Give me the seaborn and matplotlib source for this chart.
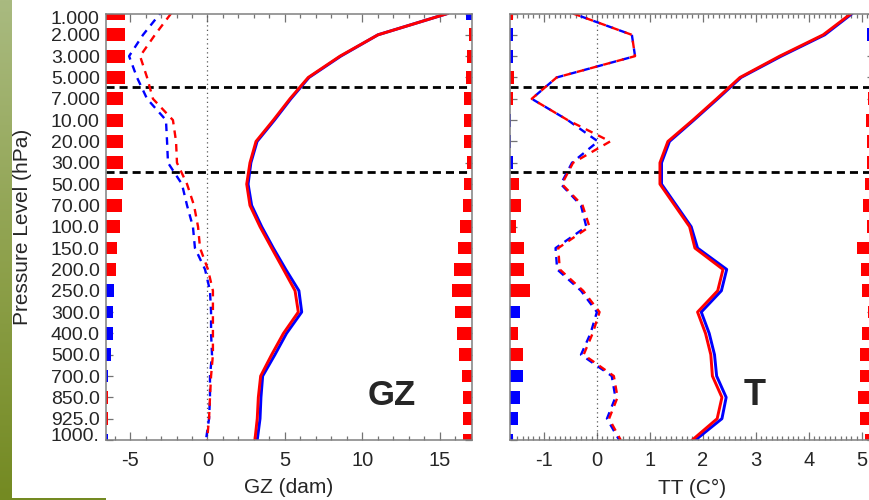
import numpy as np
import pandas as pd
import matplotlib
matplotlib.use("Agg")
import matplotlib.pyplot as plt
import seaborn as sns
from matplotlib.ticker import MultipleLocator
from matplotlib.patches import Rectangle
from matplotlib.colors import LinearSegmentedColormap
from matplotlib.transforms import ScaledTranslation

# ---------------- data ----------------
level_labels = ["1.000", "2.000", "3.000", "5.000", "7.000", "10.00", "20.00", "30.00",
                "50.00", "70.00", "100.0", "150.0", "200.0", "250.0", "300.0", "400.0",
                "500.0", "700.0", "850.0", "925.0", "1000."]

# GZ (dam) profiles
gz_std_red = [15.5, 11.0, 8.55, 6.5, 5.32, 4.25, 3.13, 2.74, 2.53, 2.74, 3.39, 4.14, 4.9,
              5.65, 5.86, 4.9, 4.14, 3.43, 3.28, 3.21, 3.06]
gz_std_blue = [15.5, 11.0, 8.6, 6.55, 5.38, 4.32, 3.2, 2.8, 2.62, 2.85, 3.5, 4.25, 5.05,
               5.9, 6.08, 5.1, 4.35, 3.56, 3.45, 3.39, 3.21]
gz_bias_red = [-2.35, -3.39, -4.35, -3.9, -3.52, -2.23, -2.03, -1.97, -1.32, -0.87, -0.61,
               -0.48, 0.03, 0.35, 0.35, 0.35, 0.35, 0.23, 0.16, 0.1, -0.03]
gz_bias_blue = [-3.06, -4.16, -5.06, -4.55, -3.9, -2.68, -2.61, -2.55, -1.65, -1.32, -0.94,
                -0.81, -0.16, 0.16, 0.23, 0.23, 0.29, 0.16, 0.16, 0.1, -0.1]
gz_bars_left = [1.23, 1.23, 1.23, 1.23, 1.12, 1.12, 1.12, 1.12, 1.12, 1.01, 0.90, 0.73, 0.65,
                0.54, 0.47, 0.43, 0.30, 0.11, 0.11, 0.11, 0.11]
gz_bars_left_col = ["r"] * 13 + ["b"] * 5 + ["r", "r", "b"]
gz_bars_right = [0.37, 0.15, 0.32, 0.37, 0.48, 0.48, 0.48, 0.32, 0.48, 0.58, 0.75, 0.90, 1.14,
                 1.25, 1.08, 0.97, 0.84, 0.61, 0.54, 0.54, 0.58]
gz_bars_right_col = ["b"] + ["r"] * 20

# TT (C) profiles
tt_std_red = [4.8, 4.27, 3.45, 2.7, 2.26, 1.81, 1.34, 1.19, 1.19, 1.47, 1.75, 1.85, 2.38,
              2.28, 1.90, 2.05, 2.15, 2.18, 2.36, 2.27, 1.80]
tt_std_blue = [4.82, 4.3, 3.48, 2.72, 2.28, 1.83, 1.37, 1.22, 1.22, 1.5, 1.78, 1.9, 2.45,
               2.35, 1.97, 2.12, 2.22, 2.26, 2.44, 2.36, 1.86]
tt_bias_red = [-0.45, 0.66, 0.72, -0.76, -1.23, -0.55, 0.25, -0.45, -0.66, -0.27, -0.14,
               -0.73, -0.70, -0.26, 0.05, -0.08, -0.25, 0.32, 0.39, 0.23, 0.45]
tt_bias_blue = [-0.45, 0.66, 0.72, -0.76, -1.23, -0.55, 0.02, -0.47, -0.68, -0.3, -0.2,
                -0.78, -0.75, -0.3, 0.0, -0.12, -0.3, 0.28, 0.35, 0.19, 0.42]
tt_bars_left = [0.05, 0.06, 0.06, 0.08, 0.06, 0.02, 0.02, 0.05, 0.17, 0.20, 0.11, 0.26, 0.26,
                0.38, 0.19, 0.16, 0.24, 0.24, 0.19, 0.15, 0.06]
tt_bars_left_col = ["r", "b", "b", "r", "r", "b", "b", "b", "r", "r", "r", "r", "r", "r",
                    "b", "r", "r", "b", "b", "b", "b"]
tt_bars_right = [0.02, 0.13, 0.06, 0.06, 0.11, 0.15, 0.13, 0.13, 0.17, 0.21, 0.13, 0.32, 0.25,
                 0.23, 0.11, 0.23, 0.26, 0.26, 0.30, 0.26, 0.17]
tt_bars_right_col = ["b", "b"] + ["r"] * 19

sep_levels = [3.43, 7.44]

# ---------------- style ----------------
sns.set_style("white")
plt.rcParams['font.family'] = ['Liberation Sans', 'DejaVu Sans']
plt.rcParams['axes.unicode_minus'] = False

RED = "#ff0000"
BLUE = "#0000ff"
colmap = {"r": RED, "b": BLUE}

W, H = 870, 500
fig = plt.figure(figsize=(W / 100, H / 100), dpi=100)
fig.patch.set_facecolor("white")


def rect(x0, y0, x1, y1):
    return [x0 / W, 1 - y1 / H, (x1 - x0) / W, (y1 - y0) / H]


# left decorative strip
ax_strip = fig.add_axes(rect(0, 0, 12, 500))
cmap = LinearSegmentedColormap.from_list("g", ["#a9ba80", "#8fa24e", "#748a22"])
ax_strip.imshow(np.linspace(0, 1, 200).reshape(-1, 1), aspect="auto", cmap=cmap)
ax_strip.set_axis_off()
fig.add_artist(Rectangle((12 / W, 0), 94 / W, 2.2 / H, transform=fig.transFigure,
                         color="#748a22", lw=0))

ax1 = fig.add_axes(rect(106, 13.5, 471.7, 440))
ax2 = fig.add_axes(rect(510, 13.5, 874, 440))

idx = np.arange(len(level_labels))
GZ_LIM = (-6.55, 17.05)
TT_LIM = (-1.64, 5.23)

df = pd.DataFrame({"idx": idx,
                   "gz_std_red": gz_std_red, "gz_std_blue": gz_std_blue,
                   "gz_bias_red": gz_bias_red, "gz_bias_blue": gz_bias_blue,
                   "tt_std_red": tt_std_red, "tt_std_blue": tt_std_blue,
                   "tt_bias_red": tt_bias_red, "tt_bias_blue": tt_bias_blue})

BAR_H = 0.6


def draw_panel(ax, pre, lim, bl, blc, br, brc):
    ax.set_xlim(*lim)
    ax.set_ylim(20, 0)
    # bars at edges
    ax.barh(idx, bl, left=lim[0], height=BAR_H, color=[colmap[c] for c in blc], lw=0, zorder=2)
    ax.barh(idx, br, left=[lim[1] - w for w in br], height=BAR_H,
            color=[colmap[c] for c in brc], lw=0, zorder=2)
    ax.axvline(0, color="0.35", lw=0.9, ls=(0, (1, 2.6)), zorder=1)
    for s in sep_levels:
        ax.axhline(s, color="black", lw=2.0, ls=(0, (2.9, 1.8)), zorder=3)
    # dashed (bias) lines
    sns.lineplot(data=df, x=pre + "_bias_blue", y="idx", orient="y", sort=False,
                 estimator=None, color=BLUE, lw=1.7, linestyle=(2.5, (3.2, 2.6)), ax=ax, zorder=4)
    sns.lineplot(data=df, x=pre + "_bias_red", y="idx", orient="y", sort=False,
                 estimator=None, color=RED, lw=1.7, linestyle=(0, (3.2, 2.6)), ax=ax, zorder=5)
    # solid (std) lines
    sns.lineplot(data=df, x=pre + "_std_blue", y="idx", orient="y", sort=False,
                 estimator=None, color=BLUE, lw=2.1, ax=ax, zorder=4)
    sns.lineplot(data=df, x=pre + "_std_red", y="idx", orient="y", sort=False,
                 estimator=None, color=RED, lw=2.1, ax=ax, zorder=5)
    ax.set_ylim(20, 0)
    ax.set_xlim(*lim)
    for sp in ax.spines.values():
        sp.set_color("0.5")
        sp.set_linewidth(1.1)
        sp.set_visible(True)
        sp.set_zorder(6)
    ax.set_yticks(idx)
    ax.tick_params(axis="y", which="major", direction="in", left=True, right=True,
                   length=5, width=0.9, color="0.45", labelsize=14, pad=4.5)
    ax.tick_params(axis="x", which="both", direction="in", top=True, bottom=True,
                   width=0.9, color="0.45", labelsize=14.5, pad=8)
    ax.tick_params(axis="x", which="major", length=5.5)
    ax.tick_params(axis="x", which="minor", length=3)
    ax.set_facecolor("white")


draw_panel(ax1, "gz", GZ_LIM, gz_bars_left, gz_bars_left_col, gz_bars_right, gz_bars_right_col)
draw_panel(ax2, "tt", TT_LIM, tt_bars_left, tt_bars_left_col, tt_bars_right, tt_bars_right_col)

ax1.xaxis.set_major_locator(MultipleLocator(5))
ax1.xaxis.set_minor_locator(MultipleLocator(1))
ax2.xaxis.set_major_locator(MultipleLocator(1))
ax2.xaxis.set_minor_locator(MultipleLocator(0.1))

ax1.set_yticklabels(level_labels)
ax2.set_yticklabels([])
ax2.tick_params(axis="y", labelleft=False)

labs = ax1.get_yticklabels()
labs[0].set_transform(labs[0].get_transform() + ScaledTranslation(0, -3.5 / 100, fig.dpi_scale_trans))
labs[-1].set_transform(labs[-1].get_transform() + ScaledTranslation(0, 6 / 100, fig.dpi_scale_trans))

ax1.set_xlabel("GZ (dam)", fontsize=15, labelpad=6)
ax2.set_xlabel("TT (C°)", fontsize=15, labelpad=6)
ax2.set_ylabel("")
ax1.set_ylabel("Pressure Level (hPa)", fontsize=15, va="center")
ax1.yaxis.set_label_coords(-0.227, 0.5)

ax1.text(0.781, 0.1055, "GZ", transform=ax1.transAxes, ha="center", va="center",
         fontsize=25, fontweight="bold", zorder=7)
ax2.text(0.673, 0.1055, "T", transform=ax2.transAxes, ha="center", va="center",
         fontsize=26, fontweight="bold", zorder=7)

fig.savefig("out.png", dpi=100)
